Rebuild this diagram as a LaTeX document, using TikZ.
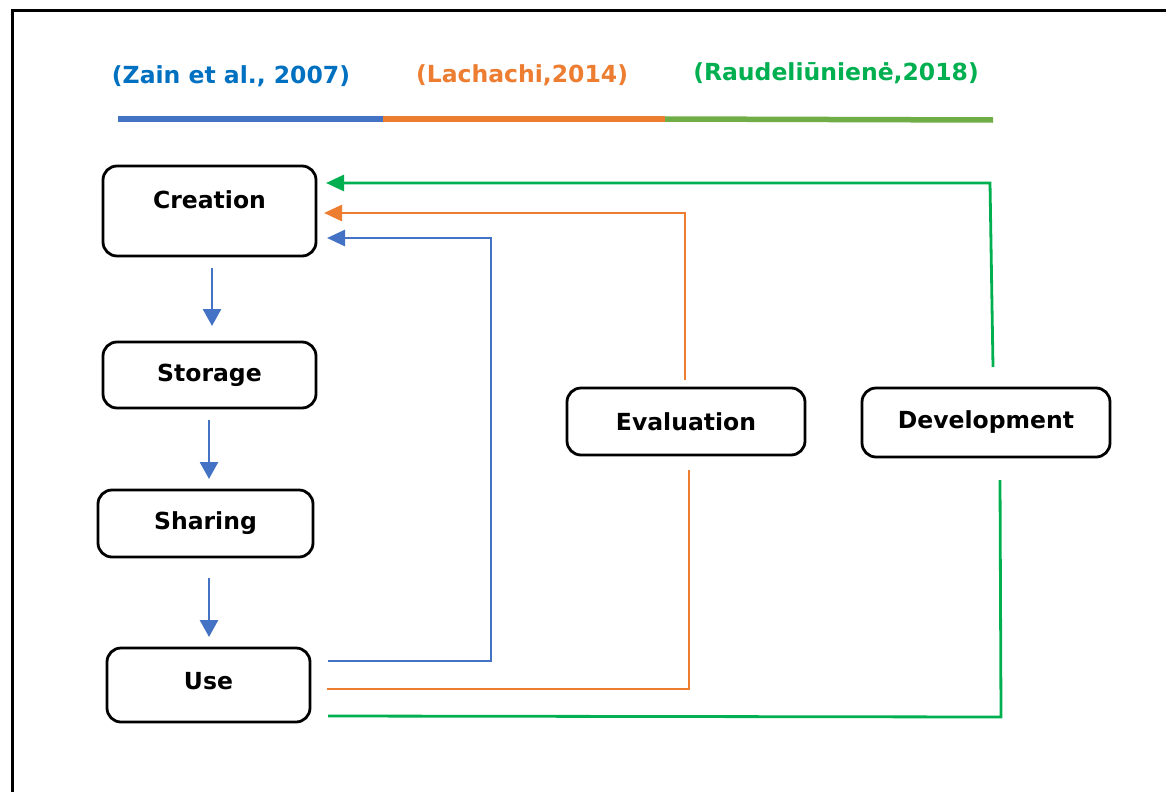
\documentclass[tikz,border=0pt]{standalone}
\usepackage{fontspec}
\setmainfont{DejaVu Sans}
\usetikzlibrary{arrows.meta}
\definecolor{cblue}{HTML}{4472C4}
\definecolor{tblue}{HTML}{0070C0}
\definecolor{corange}{HTML}{ED7D31}
\definecolor{cgreen}{HTML}{00B050}
\definecolor{bgreen}{HTML}{70AD47}
\begin{document}
\begin{tikzpicture}[x=1pt,y=-1pt,
  stagebox/.style={draw=black, line width=2.8pt, rounded corners=14pt, fill=white, inner sep=0pt,
    font=\fontsize{23.5}{26}\selectfont\bfseries, text=black},
  stagetext/.style={font=\fontsize{23.5}{26}\selectfont\bfseries, text=black, inner sep=0pt},
  headtext/.style={font=\fontsize{23.5}{26}\selectfont\bfseries, inner sep=0pt},
  flow/.style={line width=2.8pt, -{Triangle[length=17pt,width=18pt]}},
  loopline/.style={line width=2.8pt, line join=miter},
  looparrow/.style={line width=2.8pt, line join=miter, -{Triangle[length=18pt,width=16pt]}}
]
\useasboundingbox (0,0) rectangle (1166,792);
\fill[white] (0,0) rectangle (1166,792);

% outer frame (top and left edges)
\draw[line width=3pt] (12,792) -- (12,11) -- (1166,11);

% source headings and colour bar
\node[headtext, text=tblue]   (zain)  at (231,76) {(Zain et al., 2007)};
\node[headtext, text=corange] (lach)  at (522,75) {(Lachachi,2014)};
\node[headtext, text=cgreen]  (raud)  at (836,73) {(Raudeliūnienė,2018)};
\coordinate (b0) at (118,119);
\coordinate (b1) at (383,119);
\coordinate (b2) at (665,119);
\coordinate (b3) at (993,120);
\draw[line width=5.5pt, cblue]   (b0) -- (b1);
\draw[line width=5.5pt, corange] (b1) -- (b2);
\draw[line width=5.5pt, bgreen]  (b2) -- (b3);

% main stages
\node[stagebox, minimum width=213pt, minimum height=90pt] (creation) at (209.5,211) {};
\node[stagetext] (creationtxt) at (209.5,200) {Creation};
\node[stagebox, minimum width=213pt, minimum height=66pt] (storage) at (209.5,375) {Storage};
\node[stagebox, minimum width=215pt, minimum height=67pt] (sharing) at (205.5,523.5) {Sharing};
\node[stagebox, minimum width=203pt, minimum height=74pt] (use) at (208.5,685) {};
\node[stagetext] (usetxt) at (208.5,681) {Use};
\node[stagebox, minimum width=238pt, minimum height=67pt] (evaluation) at (686,421.5) {Evaluation};
\node[stagebox, minimum width=248pt, minimum height=69pt] (development) at (986,422.5) {Development};

% sequence arrows
\coordinate (a1s) at (212,268); \coordinate (a1e) at (212,326);
\coordinate (a2s) at (209,420); \coordinate (a2e) at (209,479);
\coordinate (a3s) at (209,578); \coordinate (a3e) at (209,637);
\draw[flow, cblue] (a1s) -- (a1e);
\draw[flow, cblue] (a2s) -- (a2e);
\draw[flow, cblue] (a3s) -- (a3e);

% blue loop: Use back to Creation
\coordinate (bu) at (328,661);
\coordinate (bc) at (327,238);
\draw[looparrow, cblue] (bu) -- (491,661) -- (491,238) -- (bc);

% orange loop through Evaluation
\coordinate (ou) at (327,689);
\coordinate (oe1) at (689,470);
\coordinate (oe2) at (685,380);
\coordinate (oc) at (324,213);
\draw[loopline, corange] (ou) -- (689,689) -- (oe1);
\draw[looparrow, corange] (oe2) -- (685,213) -- (oc);

% green loop through Development
\coordinate (gu) at (328,716);
\coordinate (gd1) at (1000,480);
\coordinate (gd2) at (993,367);
\coordinate (gc) at (326,183);
\draw[loopline, cgreen] (gu) -- (1001,717) -- (gd1);
\draw[looparrow, cgreen] (gd2) -- (990,183) -- (gc);
\end{tikzpicture}
\end{document}
